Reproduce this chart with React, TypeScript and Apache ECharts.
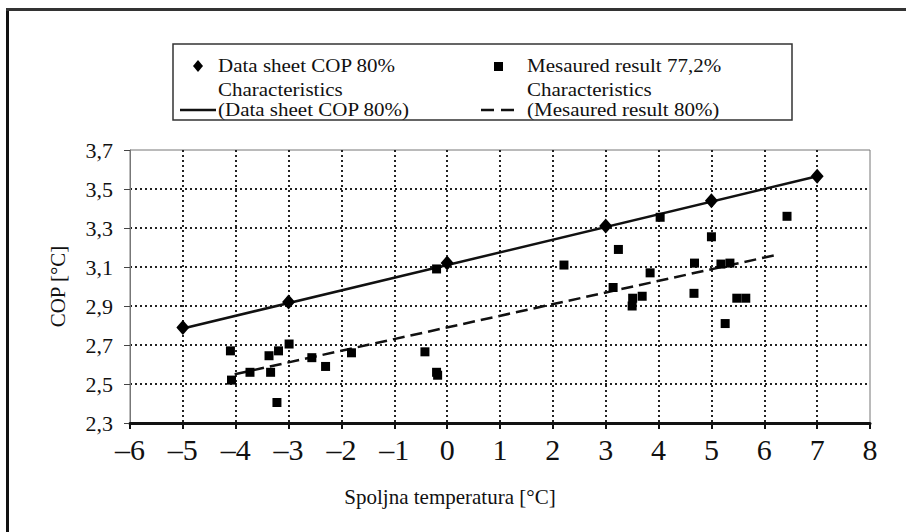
import React, { useEffect, useRef } from "react";
import * as echarts from "echarts";

// Data sheet COP 80% (diamonds)
const sheetX = [-5, -3, 0, 3, 5, 7];
const sheetY = [2.79, 2.92, 3.12, 3.31, 3.44, 3.565];

// Measured result 77,2% (squares)
const measX = [-4.1, -4.08, -3.73, -3.37, -3.19, -3.34, -3.22, -2.99, -2.56, -2.3, -1.81, -0.42, -0.2, -0.18, -0.2,
  2.21, 3.24, 3.14, 3.51, 3.5, 3.69, 3.84, 4.03, 4.68, 4.67, 5.0, 5.18, 5.35, 5.26, 5.48, 5.65, 6.43];
const measY = [2.67, 2.52, 2.56, 2.645, 2.67, 2.56, 2.405, 2.705, 2.635, 2.59, 2.66, 2.665, 2.56, 2.545, 3.09,
  3.11, 3.19, 2.995, 2.94, 2.9, 2.95, 3.07, 3.355, 3.12, 2.965, 3.255, 3.115, 3.12, 2.81, 2.94, 2.94, 3.36];

// Characteristic lines (end points)
const sheetLineX = [-5, 7];
const sheetLineY = [2.785, 3.565];
const measLineX = [-4.02, 6.28];
const measLineY = [2.55, 3.165];

// Axis ranges
const xMin = -6, xMax = 8, xStep = 1;
const yMin = 2.3, yMax = 3.7, yStep = 0.2;

const FONT = '"Liberation Serif", "Times New Roman", serif';
const INK = "#111";

const zip = (xs: number[], ys: number[]) => xs.map((x, i) => [x, ys[i]]);

export default function App() {
  const ref = useRef<HTMLDivElement>(null);
  useEffect(() => {
    if (!ref.current) return;
    const chart = echarts.init(ref.current, null, { renderer: "svg" });
    const legendFont = 21;
    const txt = (text: string, x: number, y: number) => ({
      type: "text",
      x,
      y,
      scaleY: 0.86,
      style: { text, font: `${legendFont}px ${FONT}`, fill: INK, verticalAlign: "middle" },
    });
    chart.setOption({
      animation: false,
      backgroundColor: "#fff",
      grid: { left: 130, right: 36, top: 150, bottom: 109, show: true, borderColor: "#777", borderWidth: 1, backgroundColor: "transparent" },
      xAxis: {
        type: "value",
        min: xMin,
        max: xMax,
        interval: xStep,
        axisLine: { show: true, onZero: false, lineStyle: { color: "#111", width: 3 } },
        axisTick: { show: true, length: 6, lineStyle: { color: "#111", width: 2 } },
        axisLabel: {
          margin: 11,
          fontFamily: FONT,
          fontSize: 30,
          color: INK,
          formatter: (v: number) => (v < 0 ? "\u2013" + Math.abs(v) : String(v)),
        },
        splitLine: { show: true, showMinLine: false, showMaxLine: false, lineStyle: { color: "#222", width: 2, type: [2, 3] } },
      },
      yAxis: {
        type: "value",
        min: yMin,
        max: yMax,
        interval: yStep,
        axisLine: { show: true, onZero: false, lineStyle: { color: "#777", width: 1 } },
        axisTick: { show: true, length: 6, lineStyle: { color: "#444", width: 1 } },
        axisLabel: {
          margin: 17,
          fontFamily: FONT,
          fontSize: 22,
          color: INK,
          formatter: (v: number) => v.toFixed(1).replace(".", ","),
        },
        splitLine: { show: true, showMinLine: false, showMaxLine: false, lineStyle: { color: "#222", width: 2, type: [2, 3] } },
        name: "COP [°C]",
        nameLocation: "middle",
        nameGap: 62,
        nameTextStyle: { fontFamily: FONT, fontSize: 21, color: INK },
      },
      series: [
        {
          type: "line",
          data: zip(sheetLineX, sheetLineY),
          symbol: "none",
          lineStyle: { color: "#111", width: 2.5 },
          z: 2,
        },
        {
          type: "line",
          data: zip(measLineX, measLineY),
          symbol: "none",
          lineStyle: { color: "#111", width: 2.5, type: [12, 6] },
          z: 2,
        },
        {
          type: "scatter",
          data: zip(measX, measY),
          symbol: "rect",
          symbolSize: 9,
          itemStyle: { color: "#000", opacity: 1 },
          z: 3,
        },
        {
          type: "scatter",
          data: zip(sheetX, sheetY),
          symbol: "diamond",
          symbolSize: [13, 15],
          itemStyle: { color: "#000", opacity: 1 },
          z: 4,
        },
      ],
      graphic: [
        { type: "rect", shape: { x: 6, y: 8, width: 3, height: 524 }, style: { fill: "#111" } },
        { type: "rect", shape: { x: 6, y: 8, width: 900, height: 3 }, style: { fill: "#333" } },
        { type: "rect", shape: { x: 173, y: 44, width: 619, height: 76 }, style: { fill: "#fff", stroke: "#333", lineWidth: 1.5 } },
        { type: "polygon", shape: { points: [[198, 60], [203, 66], [198, 72], [193, 66]] }, style: { fill: "#000" } },
        txt("Data sheet COP 80%", 218, 66),
        { type: "rect", shape: { x: 494, y: 62, width: 9, height: 9 }, style: { fill: "#000" } },
        txt("Mesaured result 77,2%", 527, 66),
        { type: "line", shape: { x1: 180, y1: 110, x2: 216, y2: 110 }, style: { stroke: "#111", lineWidth: 2.5 } },
        txt("Characteristics", 218, 90),
        txt("(Data sheet COP 80%)", 218, 110.5),
        { type: "line", shape: { x1: 481, y1: 110, x2: 517, y2: 110 }, style: { stroke: "#111", lineWidth: 2.5, lineDash: [13, 7] } },
        txt("Characteristics", 527, 90),
        txt("(Mesaured result 80%)", 527, 110.5),
        {
          type: "text",
          x: 450,
          y: 497,
          style: { text: "Spoljna temperatura [°C]", font: `21px ${FONT}`, fill: INK, align: "center", verticalAlign: "middle" },
        },
      ],
    });
    return () => chart.dispose();
  }, []);
  return <div ref={ref} style={{ position: "absolute", left: 0, top: 0, width: 906, height: 532 }} />;
}
